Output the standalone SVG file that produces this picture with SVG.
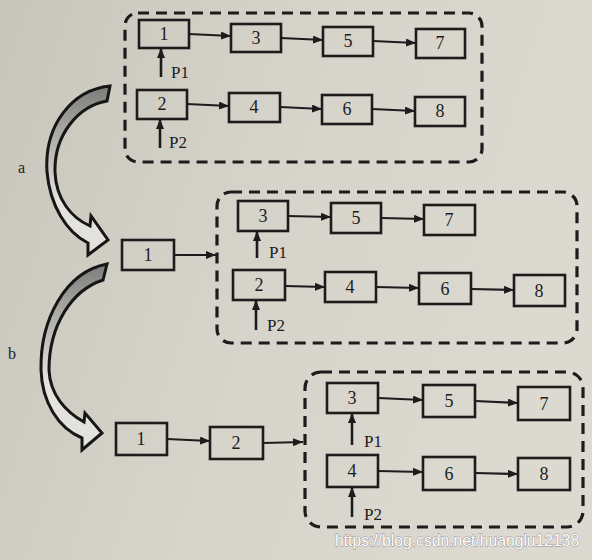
<svg xmlns="http://www.w3.org/2000/svg" width="592" height="560" viewBox="0 0 592 560">
<defs>
<style>
.bg{fill:url(#bgg)}
.nd rect{fill:none;stroke:#1c1c1c;stroke-width:2.6}
.nd text{font-family:"Liberation Serif","Times New Roman",serif;font-size:18px;fill:#1c1c1c;text-anchor:middle}
.lbl{font-family:"Liberation Serif","Times New Roman",serif;font-size:17px;fill:#1c1c1c}
.dash{fill:none;stroke:#1c1c1c;stroke-width:3.2;stroke-dasharray:11 7}
.edge{stroke:#1c1c1c;stroke-width:2.2;fill:none;marker-end:url(#ah)}
.ptr{stroke:#1c1c1c;stroke-width:2.6;fill:none;marker-end:url(#ah)}
.big{stroke:#161616;stroke-width:3;stroke-linejoin:miter}
.wm{font-family:"Liberation Sans",Arial,sans-serif;font-size:15.7px;fill:#ffffff;stroke:#8a8a8a;stroke-width:0.8;paint-order:stroke}
</style>
<linearGradient id="bgg" x1="0" y1="0" x2="1" y2="0.3">
<stop offset="0" stop-color="#c8c5bb"/>
<stop offset="0.5" stop-color="#d6d3ca"/>
<stop offset="1" stop-color="#dcd9d1"/>
</linearGradient>
<linearGradient id="ga" gradientUnits="userSpaceOnUse" x1="0" y1="86" x2="0" y2="200">
<stop offset="0" stop-color="#7c7c7a"/>
<stop offset="0.4" stop-color="#a9a8a3"/>
<stop offset="1" stop-color="#e4e2dc"/>
</linearGradient>
<linearGradient id="gb" gradientUnits="userSpaceOnUse" x1="0" y1="264" x2="0" y2="380">
<stop offset="0" stop-color="#7c7c7a"/>
<stop offset="0.4" stop-color="#a9a8a3"/>
<stop offset="1" stop-color="#e4e2dc"/>
</linearGradient>
<marker id="ah" viewBox="0 0 10 8" refX="10" refY="4" markerWidth="10" markerHeight="8" markerUnits="userSpaceOnUse" orient="auto">
<path d="M0,0 L10,4 L0,8 Z" fill="#1c1c1c"/>
</marker>
</defs>
<rect class="bg" x="0" y="0" width="592" height="560"/>

<!-- containers -->
<g id="groupTop"><rect class="dash" x="125" y="13" width="357" height="149" rx="13"/></g>
<g id="groupMid"><rect class="dash" x="217" y="192" width="360" height="151" rx="14"/></g>
<g id="groupBot"><rect class="dash" x="305" y="372" width="278" height="155" rx="16"/></g>

<!-- top nodes -->
<g id="t1" class="nd"><rect x="139" y="20" width="50" height="28"/><text x="164" y="40">1</text></g>
<g id="t3" class="nd"><rect x="231" y="24" width="50" height="28"/><text x="256" y="44">3</text></g>
<g id="t5" class="nd"><rect x="323" y="27" width="50" height="29"/><text x="348" y="47">5</text></g>
<g id="t7" class="nd"><rect x="416" y="29" width="49" height="29"/><text x="440" y="49">7</text></g>
<g id="t2" class="nd"><rect x="137" y="90" width="50" height="29"/><text x="162" y="110">2</text></g>
<g id="t4" class="nd"><rect x="229" y="93" width="51" height="29"/><text x="254" y="113">4</text></g>
<g id="t6" class="nd"><rect x="322" y="95" width="50" height="29"/><text x="347" y="115">6</text></g>
<g id="t8" class="nd"><rect x="415" y="97" width="50" height="29"/><text x="440" y="117">8</text></g>

<!-- middle nodes -->
<g id="m1" class="nd"><rect x="122" y="240" width="52" height="30"/><text x="148" y="261">1</text></g>
<g id="m3" class="nd"><rect x="238" y="201" width="50" height="30"/><text x="263" y="222">3</text></g>
<g id="m5" class="nd"><rect x="331" y="203" width="50" height="30"/><text x="356" y="224">5</text></g>
<g id="m7" class="nd"><rect x="424" y="205" width="51" height="30"/><text x="449" y="226">7</text></g>
<g id="m2" class="nd"><rect x="233" y="270" width="52" height="30"/><text x="259" y="291">2</text></g>
<g id="m4" class="nd"><rect x="325" y="272" width="51" height="30"/><text x="350" y="293">4</text></g>
<g id="m6" class="nd"><rect x="419" y="273" width="52" height="31"/><text x="445" y="295">6</text></g>
<g id="m8" class="nd"><rect x="514" y="275" width="51" height="31"/><text x="539" y="297">8</text></g>

<!-- bottom nodes -->
<g id="b1" class="nd"><rect x="116" y="423" width="51" height="32"/><text x="141" y="445">1</text></g>
<g id="b2" class="nd"><rect x="210" y="427" width="53" height="32"/><text x="236" y="449">2</text></g>
<g id="b3" class="nd"><rect x="327" y="383" width="51" height="30"/><text x="352" y="404">3</text></g>
<g id="b5" class="nd"><rect x="423" y="385" width="52" height="32"/><text x="449" y="407">5</text></g>
<g id="b7" class="nd"><rect x="518" y="387" width="52" height="33"/><text x="544" y="410">7</text></g>
<g id="b4" class="nd"><rect x="327" y="455" width="51" height="32"/><text x="352" y="477">4</text></g>
<g id="b6" class="nd"><rect x="423" y="457" width="52" height="33"/><text x="449" y="480">6</text></g>
<g id="b8" class="nd"><rect x="518" y="458" width="52" height="32"/><text x="544" y="480">8</text></g>

<!-- pointer labels -->
<g id="labels">
<text class="lbl" x="171" y="78">P1</text>
<text class="lbl" x="169" y="148">P2</text>
<text class="lbl" x="269" y="258">P1</text>
<text class="lbl" x="267" y="331">P2</text>
<text class="lbl" x="364" y="447">P1</text>
<text class="lbl" x="364" y="520">P2</text>
<text class="lbl" x="18" y="173" style="font-size:16px">a</text>
<text class="lbl" x="8" y="359" style="font-size:16px">b</text>
</g>

<!-- connectors -->
<g id="connectors">
<line class="edge" x1="189" y1="34" x2="231" y2="36"/>
<line class="edge" x1="281" y1="38" x2="323" y2="40"/>
<line class="edge" x1="373" y1="41" x2="416" y2="43"/>
<line class="edge" x1="187" y1="104" x2="229" y2="106"/>
<line class="edge" x1="280" y1="107" x2="322" y2="109"/>
<line class="edge" x1="372" y1="109" x2="415" y2="111"/>
<line class="ptr" x1="161" y1="77" x2="161" y2="48"/>
<line class="ptr" x1="160" y1="148" x2="160" y2="119"/>

<line class="edge" x1="174" y1="255" x2="216" y2="255"/>
<line class="edge" x1="288" y1="216" x2="331" y2="217"/>
<line class="edge" x1="381" y1="218" x2="424" y2="219"/>
<line class="edge" x1="285" y1="286" x2="325" y2="287"/>
<line class="edge" x1="376" y1="287" x2="419" y2="288"/>
<line class="edge" x1="471" y1="289" x2="514" y2="290"/>
<line class="ptr" x1="257" y1="258" x2="257" y2="231"/>
<line class="ptr" x1="256" y1="330" x2="256" y2="300"/>

<line class="edge" x1="167" y1="439" x2="210" y2="441"/>
<line class="edge" x1="263" y1="443" x2="303" y2="442"/>
<line class="edge" x1="378" y1="398" x2="423" y2="400"/>
<line class="edge" x1="475" y1="401" x2="518" y2="403"/>
<line class="edge" x1="378" y1="471" x2="423" y2="472"/>
<line class="edge" x1="475" y1="473" x2="518" y2="474"/>
<line class="ptr" x1="352" y1="445" x2="352" y2="413"/>
<line class="ptr" x1="352" y1="517" x2="352" y2="487"/>

<path id="arrowA" class="big" fill="url(#ga)" d="M110,86 C72,90 44,125 47,172 C50,205 66,232 88,243 L88,255 L108,240 L91,216 L90,226 C72,218 56,200 55,172 C54,135 78,106 107,101 Z"/>
<path id="arrowB" class="big" fill="url(#gb)" d="M107,264 C65,272 40,320 41,370 C42,402 58,428 82,438 L82,450 L102,433 L85,413 L84,422 C66,412 50,395 49,370 C49,325 72,290 103,280 Z"/>
</g>

<text class="wm" x="335" y="546">https://blog.csdn.net/huanglu12138</text>
</svg>
